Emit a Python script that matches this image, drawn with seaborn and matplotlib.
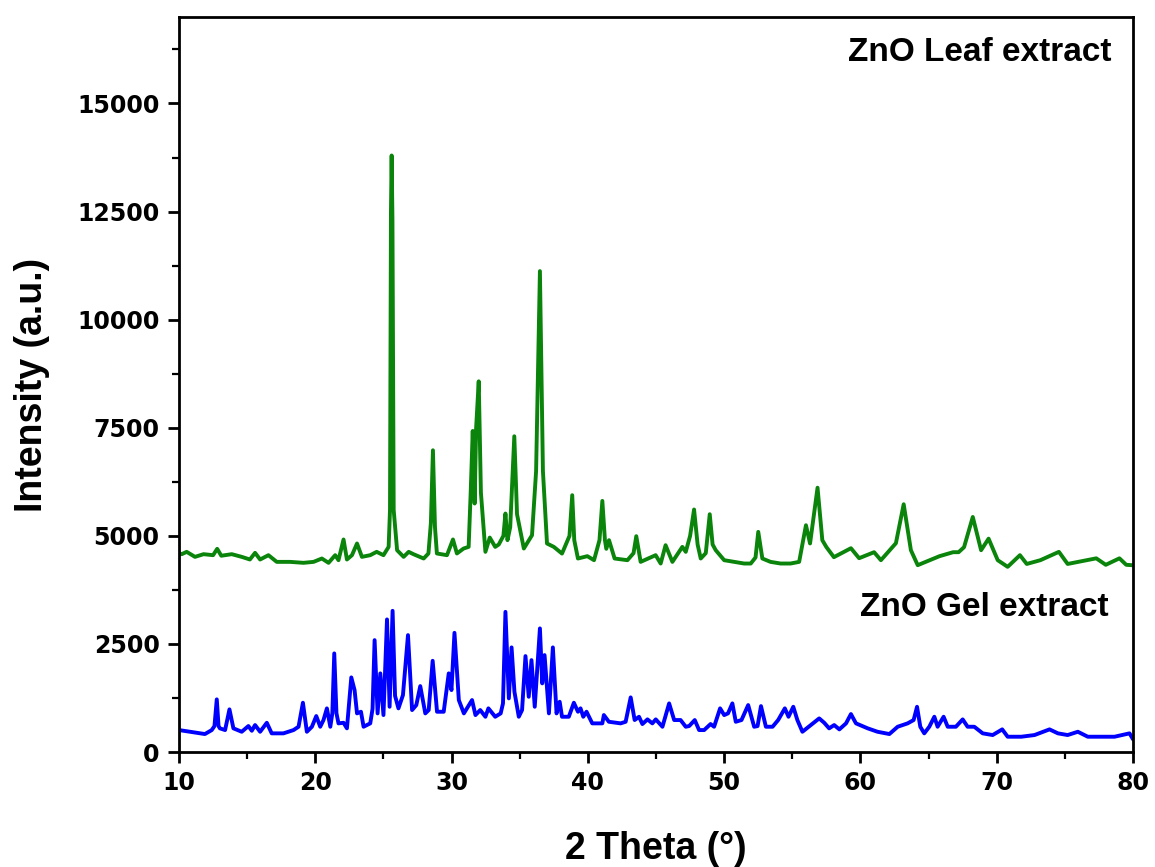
import matplotlib
matplotlib.use("Agg")
import matplotlib.pyplot as plt
import seaborn as sns
from matplotlib.ticker import MultipleLocator

# XRD pattern, ZnO from leaf extract (green, offset trace)
leaf_theta = [10.0, 10.2, 10.56, 11.17, 11.8, 12.5, 12.8, 13.1, 13.87, 14.6, 15.2, 15.58, 15.95,
              16.56, 17.17, 18.15, 19.13, 19.87, 20.48, 20.97, 21.46, 21.7, 22.07, 22.32, 22.69,
              23.06, 23.42, 24.03, 24.5, 25.0, 25.38, 25.48, 25.55, 25.6, 25.66, 25.75, 26.0,
              26.48, 26.85, 27.2, 27.95, 28.3, 28.48, 28.63, 28.78, 28.92, 29.66, 30.1, 30.39,
              30.88, 31.25, 31.4, 31.55, 31.69, 31.8, 31.99, 32.15, 32.48, 32.8, 33.2, 33.46,
              33.8, 33.95, 34.1, 34.3, 34.6, 34.8, 35.3, 35.9, 36.2, 36.48, 36.7, 37.0, 37.5,
              38.1, 38.65, 38.85, 39.0, 39.27, 39.96, 40.45, 40.85, 41.06, 41.25, 41.35, 41.55,
              41.96, 42.9, 43.35, 43.55, 43.87, 44.97, 45.34, 45.7, 46.2, 46.93, 47.18, 47.5,
              47.79, 48.05, 48.28, 48.65, 48.94, 49.15, 49.38, 50.0, 51.46, 51.95, 52.3, 52.5,
              52.8, 53.4, 54.14, 54.87, 55.5, 56.0, 56.3, 56.85, 57.2, 57.5, 58.05, 59.3, 59.9,
              61.0, 61.5, 62.6, 63.17, 63.7, 64.2, 65.8, 66.8, 67.2, 67.6, 68.24, 68.85, 69.4,
              70.07, 70.8, 71.7, 72.2, 73.2, 74.56, 75.2, 77.3, 78.0, 79.0, 79.5, 80.0]
leaf_counts = [4600, 4576, 4630, 4514, 4576, 4553, 4700, 4540, 4576, 4514, 4453, 4607, 4453,
               4553, 4398, 4398, 4376, 4398, 4476, 4376, 4553, 4437, 4916, 4453, 4553,
               4823, 4514, 4553, 4630, 4553, 4745, 5600, 12500, 13797, 12300, 5600, 4668,
               4514, 4630, 4576, 4476, 4592, 5300, 6979, 5200, 4592, 4553, 4916, 4592,
               4707, 4745, 6000, 7426, 5748, 7500, 8574, 6000, 4630, 4960, 4745, 4800,
               5000, 5516, 4900, 5200, 7303, 5500, 4707, 5015, 6500, 11123, 6500, 4823, 4745,
               4590, 5000, 5940, 4900, 4476, 4530, 4437, 4900, 5808, 4900, 4700, 4900,
               4476, 4437, 4600, 4992, 4398, 4553, 4360, 4784, 4398, 4745, 4630, 5000,
               5609, 4800, 4476, 4600, 5500, 4800, 4668, 4437, 4360, 4360, 4500, 5092,
               4476, 4398, 4360, 4360, 4398, 5246, 4823, 6113, 4900, 4740, 4507, 4714, 4483,
               4622, 4437, 4830, 5731, 4668, 4322, 4530, 4622, 4622, 4738, 5437, 4668, 4935,
               4437, 4283, 4553, 4350, 4437, 4630, 4350, 4480, 4330, 4480, 4330, 4320]

# XRD pattern, ZnO from gel extract (blue)
gel_theta = [10.0, 10.8, 11.9, 12.4, 12.6, 12.77, 12.9, 13.0, 13.38, 13.7, 13.99, 14.6, 15.09,
             15.34, 15.58, 15.95, 16.44, 16.8, 17.66, 18.4, 18.77, 19.09, 19.38, 19.75, 20.07,
             20.36, 20.6, 20.85, 21.1, 21.25, 21.39, 21.55, 21.7, 22.07, 22.32, 22.64, 22.88,
             23.06, 23.35, 23.54, 24.03, 24.2, 24.35, 24.57, 24.77, 25.0, 25.26, 25.45, 25.67,
             25.85, 26.1, 26.43, 26.8, 27.1, 27.41, 27.7, 28.07, 28.32, 28.61, 28.93, 29.42,
             29.79, 29.99, 30.21, 30.53, 30.9, 31.5, 31.75, 32.1, 32.48, 32.7, 33.2, 33.6,
             33.77, 33.95, 34.2, 34.4, 34.61, 34.93, 35.17, 35.42, 35.66, 35.86, 36.1, 36.48,
             36.65, 36.82, 37.14, 37.43, 37.7, 37.93, 38.1, 38.6, 38.97, 39.27, 39.46, 39.66,
             39.9, 40.32, 41.06, 41.17, 41.54, 42.4, 42.77, 43.14, 43.43, 43.75, 44.0, 44.37,
             44.73, 44.98, 45.47, 45.96, 46.33, 46.8, 47.18, 47.43, 47.84, 48.16, 48.53, 49.0,
             49.26, 49.7, 50.0, 50.28, 50.6, 50.85, 51.27, 51.76, 52.2, 52.45, 52.7, 53.06,
             53.55, 53.96, 54.45, 54.72, 55.07, 55.37, 55.74, 56.36, 56.97, 57.34, 57.7, 58.07,
             58.45, 58.94, 59.3, 59.67, 60.53, 61.25, 62.12, 62.73, 63.46, 63.9, 64.15, 64.39,
             64.68, 65.05, 65.42, 65.66, 66.1, 66.4, 67.0, 67.5, 67.86, 68.35, 68.97, 69.7,
             70.4, 70.8, 71.8, 72.77, 73.87, 74.49, 75.2, 75.95, 76.68, 77.66, 78.64, 79.74, 80.0]
gel_counts = [508, 469, 416, 508, 600, 1218, 600, 548, 508, 987, 548, 469, 601,
              492, 624, 469, 677, 432, 432, 508, 585, 1140, 469, 585, 832,
              585, 740, 1010, 585, 900, 2281, 900, 663, 677, 548, 1726, 1433,
              894, 932, 585, 663, 1000, 2588, 894, 1819, 855, 3067, 1047, 3266,
              1300, 1010, 1317, 2704, 971, 1086, 1525, 894, 971, 2110, 932, 932,
              1819, 1433, 2757, 1202, 894, 1202, 855, 971, 816, 1010, 816, 894,
              1125, 3242, 1241, 2420, 1394, 816, 971, 2219, 1278, 2126, 1047, 2859,
              1588, 2242, 894, 2420, 894, 1163, 816, 816, 1140, 932, 1010, 816,
              932, 663, 663, 855, 700, 663, 700, 1264, 740, 816, 647, 755,
              663, 755, 585, 1125, 740, 740, 585, 601, 740, 508, 508, 647,
              585, 1010, 855, 894, 1125, 700, 740, 1086, 585, 600, 1063, 585,
              585, 740, 1010, 816, 1047, 740, 469, 624, 778, 677, 548, 624,
              524, 663, 878, 663, 548, 469, 416, 585, 663, 740, 1047, 585,
              432, 585, 816, 585, 816, 585, 585, 755, 585, 585, 432, 393,
              524, 354, 354, 393, 524, 432, 393, 469, 354, 354, 354, 432, 294]

sns.set_style("ticks")
plt.rcParams['font.family'] = ['DejaVu Sans']
plt.rcParams['text.color'] = 'black'
plt.rcParams['axes.labelcolor'] = 'black'
plt.rcParams['xtick.color'] = 'black'
plt.rcParams['ytick.color'] = 'black'

fig = plt.figure(figsize=(11.55, 8.67), dpi=100)
ax = fig.add_axes([0.155, 0.1326, 0.826, 0.8478])

sns.lineplot(x=leaf_theta, y=leaf_counts, color="#0a840a", lw=2.8, ax=ax)
sns.lineplot(x=gel_theta, y=gel_counts, color="#0000ff", lw=2.8, ax=ax)

ax.set_xlim(10, 80)
ax.set_ylim(0, 17000)
ax.xaxis.set_major_locator(MultipleLocator(10))
ax.xaxis.set_minor_locator(MultipleLocator(5))
ax.yaxis.set_major_locator(MultipleLocator(2500))
ax.yaxis.set_minor_locator(MultipleLocator(1250))

for s in ax.spines.values():
    s.set_linewidth(2)
    s.set_color("black")
ax.tick_params(which="major", direction="out", length=8, width=2, labelsize=17, pad=6,
               colors="black")
ax.tick_params(which="minor", direction="out", length=5, width=1.6, colors="black")
for lab in ax.get_xticklabels() + ax.get_yticklabels():
    lab.set_fontweight("bold")

lab_font = ['Liberation Sans Narrow', 'Liberation Sans', 'DejaVu Sans']
ax.set_xlabel("2 Theta (°)", fontsize=27, fontweight="bold", family=lab_font, color="black")
ax.set_ylabel("Intensity (a.u.)", fontsize=27, fontweight="bold", family=lab_font, color="black")
ax.xaxis.set_label_coords(0.5, -0.108)
ax.yaxis.set_label_coords(-0.135, 0.5)

ax.text(78.4, 16177, "ZnO Leaf extract", ha="right", va="center", fontsize=24,
        fontweight="bold", family=['Liberation Sans', 'DejaVu Sans'], color="black")
ax.text(78.2, 3351, "ZnO Gel extract", ha="right", va="center", fontsize=24,
        fontweight="bold", family=['Liberation Sans', 'DejaVu Sans'], color="black")

fig.savefig("out.png", dpi=100)
